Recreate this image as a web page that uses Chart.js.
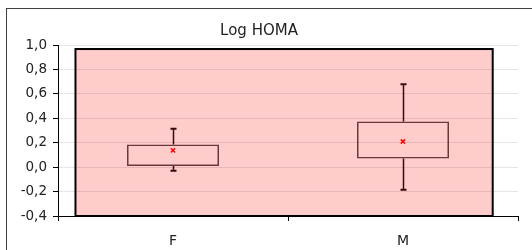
<!DOCTYPE html>
<html>
<head>
<meta charset="utf-8">
<script src="https://cdn.jsdelivr.net/npm/chart.js@4"></script>
<style>
  body { margin: 0; background: #fff; }
  #frame { position: absolute; left: 6px; top: 8px; width: 600px; height: 300px; border: 1.5px solid #404040; }
  #wrap { position: absolute; left: 0; top: 0; width: 532px; height: 250px; }
</style>
</head>
<body>
<div id="frame"></div>
<div id="wrap"><canvas id="chart" width="532" height="250"></canvas></div>
<script>
const categories = ['F', 'M'];
const q1 = [0.01, 0.07];
const q3 = [0.185, 0.373];
const whiskerLow = [-0.03, -0.185];
const whiskerHigh = [0.315, 0.678];
const means = [0.138, 0.21];

// y axis range / step as on the reference
const yMin = -0.4;
const yMax = 1.0;
const yStep = 0.2;

// pink plot band, in data units (category index / value)
const bandX = [-0.424, 1.39];
const bandY = [-0.4, 0.967];

// comma decimals, and no "-0,0"
const fmt = v => (Math.round(v * 10) / 10).toFixed(1).replace('.', ',');

// ---- pink band under the grid ----
const bandPlugin = {
  id: 'band',
  beforeDraw(chart) {
    const { ctx, scales: { x, y } } = chart;
    const left = x.getPixelForValue(bandX[0]);
    const right = x.getPixelForValue(bandX[1]);
    const top = y.getPixelForValue(bandY[1]);
    const bottom = y.getPixelForValue(bandY[0]);
    ctx.save();
    ctx.fillStyle = '#ffcccc';
    ctx.fillRect(left, top, right - left, bottom - top);
    ctx.strokeStyle = '#000';
    ctx.lineWidth = 2;
    ctx.strokeRect(left, top, right - left, bottom - top);
    ctx.restore();
  }
};

// ---- whiskers ----
const whiskerPlugin = {
  id: 'whiskers',
  afterDatasetsDraw(chart) {
    const { ctx, scales: { x, y } } = chart;
    ctx.save();
    ctx.strokeStyle = '#3a0808';
    categories.forEach((c, i) => {
      const cx = Math.round(x.getPixelForValue(i)) + 0.5;
      const yHi = y.getPixelForValue(whiskerHigh[i]);
      const yLo = y.getPixelForValue(whiskerLow[i]);
      const yQ3 = y.getPixelForValue(q3[i]);
      const yQ1 = y.getPixelForValue(q1[i]);
      ctx.lineWidth = 1.5;
      ctx.beginPath();
      ctx.moveTo(cx, yQ3); ctx.lineTo(cx, yHi);
      ctx.moveTo(cx, yQ1); ctx.lineTo(cx, yLo);
      ctx.stroke();
      ctx.lineWidth = 2;
      ctx.beginPath();
      ctx.moveTo(cx - 3, yHi); ctx.lineTo(cx + 3, yHi);
      ctx.moveTo(cx - 3, yLo); ctx.lineTo(cx + 3, yLo);
      ctx.stroke();
    });
    ctx.restore();
  }
};

new Chart(document.getElementById('chart'), {
  data: {
    labels: categories,
    datasets: [
      {
        type: 'bar',
        data: categories.map((c, i) => [q1[i], q3[i]]),
        backgroundColor: 'rgba(0,0,0,0)',
        borderColor: '#6a3838',
        borderWidth: 1.5,
        borderSkipped: false,
        barPercentage: 0.4,
        categoryPercentage: 1
      },
      {
        type: 'line',
        data: means,
        showLine: false,
        pointStyle: 'crossRot',
        pointRadius: 3,
        pointBorderColor: '#ff0000',
        pointBorderWidth: 1.5
      }
    ]
  },
  options: {
    responsive: false,
    animation: false,
    layout: { padding: { left: 0, right: 14, top: 0, bottom: 0 } },
    plugins: {
      legend: { display: false },
      tooltip: { enabled: false },
      title: {
        display: true,
        text: 'Log HOMA',
        color: '#222',
        font: { family: 'DejaVu Sans', size: 15, weight: 'normal' },
        padding: { top: 22, bottom: 5 }
      }
    },
    scales: {
      x: {
        afterFit: s => { s.height = 34; },
        grid: { offset: true, drawOnChartArea: false, tickLength: 5, tickColor: '#000' },
        border: { color: '#000', width: 1 },
        ticks: { color: '#222', padding: 12, font: { family: 'DejaVu Sans', size: 14 } }
      },
      y: {
        min: yMin,
        max: yMax,
        afterFit: s => { s.width = 58; },
        ticks: {
          stepSize: yStep,
          color: '#222',
          padding: 6,
          font: { family: 'DejaVu Sans', size: 13.5 },
          callback: v => fmt(v)
        },
        grid: { color: 'rgba(0,0,0,0.1)', tickLength: 5, tickColor: '#000' },
        border: { color: '#000', width: 1 }
      }
    }
  },
  plugins: [bandPlugin, whiskerPlugin]
});
</script>
</body>
</html>
